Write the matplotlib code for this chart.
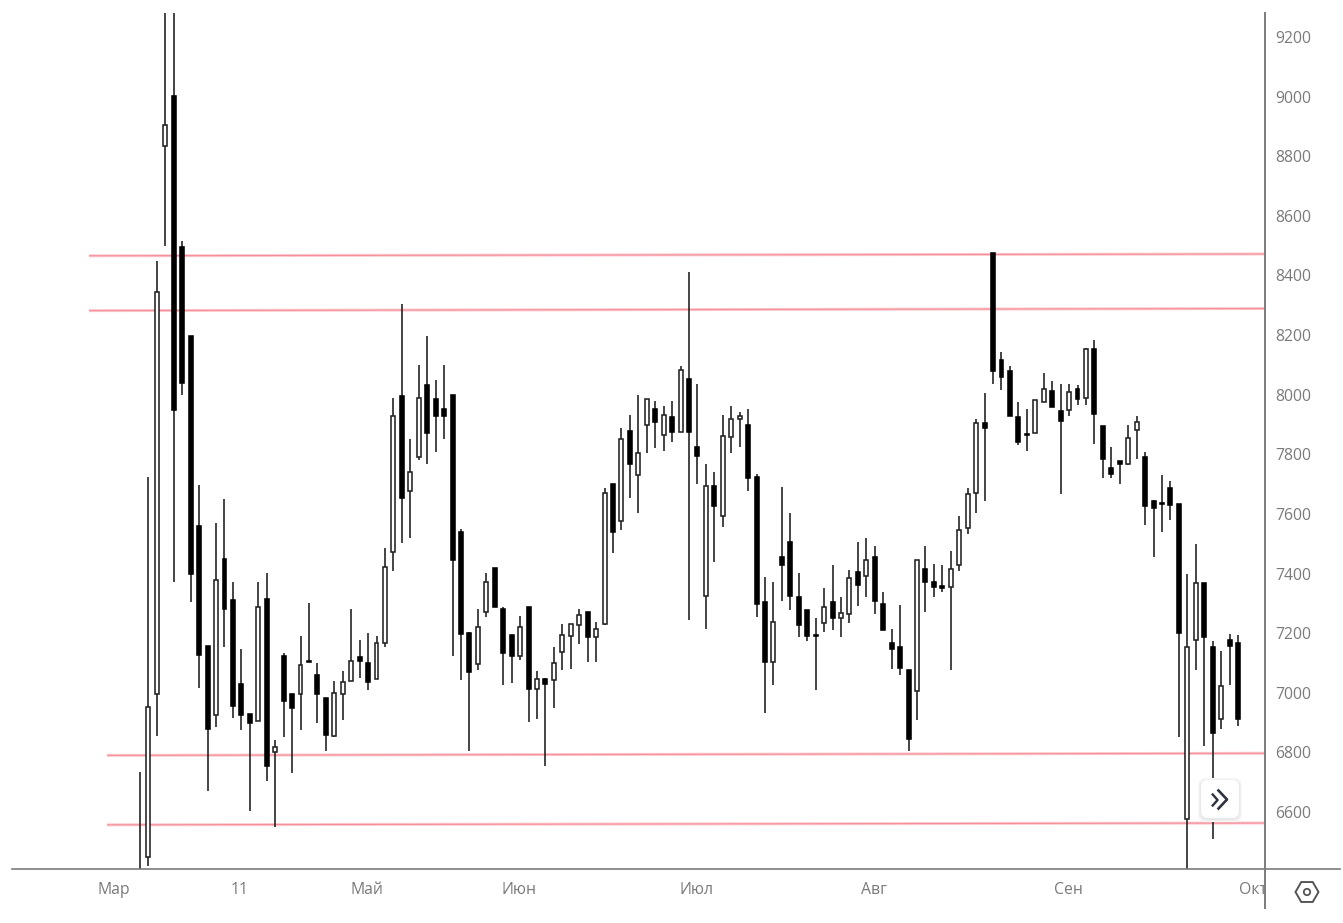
#! /usr/bin/env python

import matplotlib
matplotlib.use('Agg')
import matplotlib.pyplot as plt
from matplotlib.lines import Line2D
from matplotlib.patches import FancyBboxPatch, RegularPolygon, Circle
from matplotlib.transforms import Bbox, TransformedBbox

plt.rcParams['font.family'] = ['Open Sans', 'DejaVu Sans']

# Daily candles, one entry per session
opens = [6300, 6449, 6996, 8835, 9001, 8497, 8196, 7559, 7157, 6926,
         7449, 7310, 7030, 6928, 6906, 7315, 6800, 7125, 6997, 6995,
         7108, 7061, 6982, 6856, 6995, 7038, 7119, 7099, 7047, 7166,
         7473, 7995, 7678, 7792, 8032, 7985, 7951, 8000, 7539, 7200,
         7097, 7271, 7418, 7280, 7194, 7122, 7289, 7012, 7046, 7043,
         7138, 7192, 7228, 7272, 7186, 7231, 7699, 7577, 7878, 7732,
         7898, 7951, 7865, 7926, 7874, 8052, 7825, 7323, 7693, 7594,
         7859, 7918, 7899, 7723, 7306, 7102, 7455, 7507, 7321, 7277,
         7195, 7235, 7304, 7251, 7265, 7405, 7393, 7455, 7299, 7167,
         7155, 7077, 7007, 7416, 7372, 7357, 7356, 7430, 7552, 7669,
         7905, 8475, 8116, 8079, 7925, 7869, 7870, 7977, 8012, 7945,
         7947, 8019, 7990, 8152, 7896, 7754, 7779, 7768, 7883, 7792,
         7643, 7638, 7686, 7633, 6578, 7177, 7367, 7152, 6911, 7177,
         7167]
closes = [6200, 6951, 8343, 8905, 7948, 8040, 7397, 7128, 6879, 7378,
          7282, 6957, 6926, 6900, 7289, 6756, 6818, 6974, 6949, 7093,
          7102, 6995, 6859, 6998, 7035, 7108, 7108, 7037, 7166, 7421,
          7930, 7652, 7740, 7989, 7873, 7928, 7927, 7445, 7198, 7069,
          7221, 7370, 7287, 7133, 7124, 7221, 7012, 7046, 7028, 7099,
          7194, 7231, 7261, 7186, 7214, 7671, 7540, 7851, 7769, 7803,
          7987, 7907, 7931, 7874, 8084, 7874, 7795, 7693, 7626, 7861,
          7920, 7930, 7721, 7297, 7102, 7236, 7428, 7324, 7228, 7192,
          7190, 7288, 7251, 7267, 7384, 7362, 7447, 7307, 7209, 7148,
          7084, 6846, 7447, 7371, 7356, 7353, 7416, 7546, 7666, 7905,
          7887, 8078, 8061, 7929, 7841, 7864, 7983, 8019, 7958, 7911,
          8009, 7987, 8154, 7934, 7785, 7734, 7769, 7854, 7907, 7626,
          7620, 7633, 7631, 7202, 7152, 7367, 7187, 6864, 7022, 7157,
          6911]
highs = [6734, 7725, 8450, 9900, 9900, 8515, 8196, 7697, 7157, 7571,
         7650, 7370, 7147, 6928, 7370, 7401, 6840, 7133, 6997, 7189,
         7300, 7099, 6982, 7041, 7074, 7280, 7177, 7200, 7189, 7487,
         7989, 8303, 7853, 8101, 8196, 8048, 8101, 8000, 7549, 7203,
         7280, 7401, 7418, 7289, 7194, 7259, 7289, 7074, 7051, 7153,
         7231, 7231, 7280, 7272, 7236, 7688, 7699, 7889, 7931, 8000,
         7987, 7978, 7962, 7978, 8097, 8410, 8037, 7767, 7741, 7931,
         7962, 7941, 7951, 7734, 7390, 7370, 7692, 7603, 7401, 7277,
         7252, 7353, 7427, 7322, 7413, 7507, 7518, 7492, 7337, 7214,
         7294, 7077, 7447, 7492, 7432, 7427, 7475, 7592, 7687, 7920,
         8005, 8475, 8144, 8095, 7974, 7951, 7983, 8073, 8047, 8035,
         8035, 8031, 8158, 8183, 7896, 7823, 7779, 7898, 7930, 7807,
         7648, 7729, 7709, 7633, 7398, 7500, 7367, 7173, 7141, 7198,
         7193]
lows = [6100, 6418, 6854, 8499, 7371, 8000, 7303, 7017, 6672, 6885,
        7155, 6915, 6874, 6602, 6906, 6703, 6550, 6851, 6731, 6874,
        7102, 6898, 6803, 6851, 6909, 7038, 7048, 7010, 7047, 7153,
        7409, 7504, 7518, 7780, 7769, 7808, 7853, 7124, 7043, 6803,
        7075, 7253, 7287, 7027, 7032, 7110, 6901, 6912, 6753, 6949,
        7075, 7080, 7164, 7102, 7102, 7228, 7468, 7546, 7652, 7604,
        7806, 7820, 7811, 7842, 7874, 7244, 7699, 7213, 7440, 7557,
        7806, 7825, 7678, 7253, 6932, 7027, 7308, 7277, 7186, 7175,
        7010, 7205, 7211, 7186, 7234, 7290, 7322, 7265, 7209, 7080,
        7059, 6806, 6910, 7271, 7322, 7339, 7078, 7407, 7534, 7603,
        7642, 8036, 8017, 7929, 7832, 7812, 7870, 7977, 7958, 7668,
        7928, 7966, 7966, 7833, 7721, 7721, 7700, 7763, 7785, 7563,
        7455, 7541, 7578, 6851, 6400, 7076, 6822, 6510, 6879, 7027,
        6888]

# Support and resistance levels, each a slightly sloped straight line
level_starts = [8466, 8282, 6790, 6557]
level_ends = [8472, 8289, 6797, 6563]
level_first_candle = [-6.04, -6.04, -3.9, -3.9]
last_candle_edge = 133.2

price_ticks = [9200, 9000, 8800, 8600, 8400, 8200, 8000, 7800, 7600, 7400, 7200, 7000, 6800, 6600]
month_labels = ['Мар', '11', 'Май', 'Июн', 'Июл', 'Авг', 'Сен', 'Окт']
month_positions = [-3.08, 11.84, 26.9, 44.9, 65.9, 86.9, 109.9, 131.8]

W, H = 1343, 923
AXIS_COLOR = '#7b7b7b'
TEXT_COLOR = '#7a7a7a'

fig = plt.figure(figsize=(W / 100, H / 100), dpi=100, facecolor='white')
ax = fig.add_axes([12 / W, (H - 869) / H, (1265 - 12) / W, (869 - 13) / H])
ax.set_xlim(-15.16, last_candle_edge)
ax.set_ylim(6408.8, 9280.5)
for side in ax.spines:
    ax.spines[side].set_visible(False)
ax.set_xticks([])
ax.set_yticks([])

# Levels go under the candles
for y0, y1, x0 in zip(level_starts, level_ends, level_first_candle):
    ax.plot([x0, last_candle_edge], [y0, y1], color='#fccdd2', lw=2.2, solid_capstyle='butt', zorder=1)
    ax.plot([x0, last_candle_edge], [y0, y1], color='#f68f99', lw=0.85, solid_capstyle='butt', zorder=1.1)

xs = list(range(len(opens)))
ax.vlines(xs, lows, highs, color='#1c1c1c', lw=1.15, zorder=2)
for x, o, c in zip(xs, opens, closes):
    up = c > o
    ax.bar(x, abs(c - o), bottom=min(o, c), width=0.47,
           color='white' if up else 'black', edgecolor='#222222' if up else 'black',
           linewidth=1.15, zorder=3)

# Frame lines run past the plot area, so they belong to the figure
fig.add_artist(Line2D([12 / W, 1340 / W], [(H - 869) / H] * 2, color=AXIS_COLOR, lw=1.2))
fig.add_artist(Line2D([1265 / W] * 2, [(H - 908) / H, (H - 13) / H], color=AXIS_COLOR, lw=1.4))

for p in price_ticks:
    ax.annotate(str(p), xy=(1, p), xycoords=ax.get_yaxis_transform(), xytext=(10, -2),
                textcoords='offset pixels', ha='left', va='center',
                color=TEXT_COLOR, fontsize=11.3, annotation_clip=False)

# Bottom labels stop at the price scale, the last one gets cut off there
label_clip = TransformedBbox(Bbox([[0, 0], [1265 / W, 1]]), fig.transFigure)
for x, label in zip(month_positions, month_labels):
    t = ax.annotate(label, xy=(x, 0), xycoords=ax.get_xaxis_transform(), xytext=(0, -21),
                    textcoords='offset pixels', ha='center', va='center',
                    color=TEXT_COLOR, fontsize=11.3, annotation_clip=False)
    t.set_clip_box(label_clip)
    t.set_clip_on(True)

# Overlay in pixel units for the scroll button and the settings icon
ui = fig.add_axes([0, 0, 1, 1], facecolor='none')
ui.set_xlim(0, W)
ui.set_ylim(H, 0)
ui.axis('off')

# Soft shadow from stacked rounded boxes, then the button itself
for off, col in [(3, '#f6f6f6'), (2, '#f0f0f0'), (1, '#e8e8e8')]:
    ui.add_patch(FancyBboxPatch((1201 - off, 781 - off), 38 + 2 * off, 38 + 2 * off,
                                boxstyle='round,pad=0,rounding_size=8', fc=col, ec='none', zorder=5))
ui.add_patch(FancyBboxPatch((1201, 780), 38, 38, boxstyle='round,pad=0,rounding_size=7',
                            fc='white', ec='none', zorder=6))
ui.plot([1212.7, 1217.6, 1212.7], [794.5, 800, 805.5], color='#2f3340', lw=1.7, zorder=7)
ui.plot([1218.5, 1227, 1218.5], [790.5, 799.5, 808.5], color='#2f3340', lw=1.9, zorder=7)

ui.add_patch(RegularPolygon((1307, 892), 6, radius=11.5, orientation=0.5236,
                            fc='none', ec='#555555', lw=1.4))
ui.add_patch(Circle((1307, 892), 3.2, fc='none', ec='#555555', lw=1.3))

plt.savefig('out.png', dpi=100)
